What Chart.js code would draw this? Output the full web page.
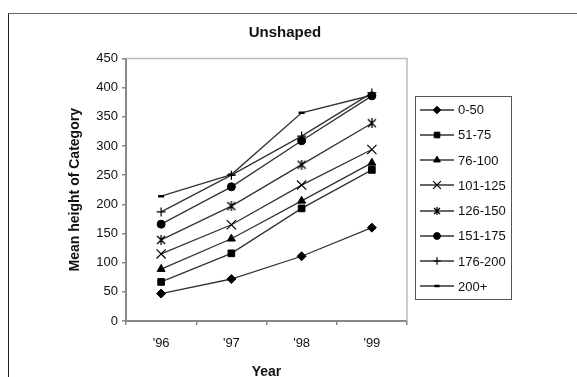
<!DOCTYPE html>
<html>
<head>
<meta charset="utf-8">
<script src="https://cdn.jsdelivr.net/npm/chart.js@4/dist/chart.umd.min.js"></script>
<style>
html, body { margin: 0; padding: 0; background: #fff; }
#marco { position: absolute; left: 8px; top: 13px; width: 569px; height: 364px; border-top: 1.5px solid #666; border-left: 1px solid #222; box-sizing: border-box; }
#wrap { position: absolute; left: 0; top: 0; width: 570px; height: 377px; }
#leyenda { position: absolute; left: 415px; top: 96px; width: 97px; height: 204px; border: 1px solid #555; box-sizing: border-box; background: #fff; font-family: Arial, "Liberation Sans", sans-serif; font-size: 13px; color: #111; }
.fila { display: flex; align-items: center; height: 25.25px; }
.fila canvas { margin-left: 4px; margin-right: 4px; }
</style>
</head>
<body>
<div id="marco"></div>
<div id="wrap"><canvas id="grafico"></canvas></div>
<div id="leyenda"></div>
<script>
const years = ["'96", "'97", "'98", "'99"];
const categorias = ['0-50', '51-75', '76-100', '101-125', '126-150', '151-175', '176-200', '200+'];

const cat0_50 = [47, 72, 111, 160];
const cat51_75 = [67, 116, 193, 259];
const cat76_100 = [89, 141, 206, 271];
const cat101_125 = [115, 165, 233, 294];
const cat126_150 = [139, 197, 268, 339];
const cat151_175 = [166, 230, 309, 386];
const cat176_200 = [187, 250, 317, 391];
const cat200mas = [214, 251, 357, 387];

const valores = [cat0_50, cat51_75, cat76_100, cat101_125, cat126_150, cat151_175, cat176_200, cat200mas];

// asterisco estilo Excel: X con una linea vertical
const crearAsterisco = (t) => {
    const c = document.createElement('canvas');
    c.width = t;
    c.height = t;
    const ctx = c.getContext('2d');
    ctx.strokeStyle = '#000';
    ctx.lineWidth = 1.3;
    ctx.beginPath();
    ctx.moveTo(1, 1); ctx.lineTo(t - 1, t - 1);
    ctx.moveTo(t - 1, 1); ctx.lineTo(1, t - 1);
    ctx.moveTo(t / 2, 0); ctx.lineTo(t / 2, t);
    ctx.stroke();
    return c;
};

// marcadores estilo Excel
const estilos = ['rectRot', 'rect', 'triangle', 'crossRot', crearAsterisco(10), 'circle', 'cross', 'line'];
const radios = [4.5, 4.7, 4.6, 6.5, 5, 4, 4.5, 3];
const bordes = [1, 1, 1, 1.2, 1.2, 1, 1.2, 2.5];

const fuente = 'Arial, "Liberation Sans", sans-serif';
Chart.defaults.font.family = fuente;
Chart.defaults.color = '#111';

const datasets = categorias.map((c, i) => ({
    label: c,
    data: valores[i],
    borderColor: '#333',
    borderWidth: 1.3,
    tension: 0,
    pointStyle: estilos[i],
    pointRadius: radios[i],
    pointBorderWidth: bordes[i],
    pointBackgroundColor: '#000',
    pointBorderColor: '#000'
}));

// marco del area de trazado (arriba y derecha)
const marcoPlot = {
    id: 'marcoPlot',
    beforeDatasetsDraw(chart) {
        const a = chart.chartArea;
        const ctx = chart.ctx;
        ctx.save();
        ctx.strokeStyle = '#bbb';
        ctx.lineWidth = 1.5;
        ctx.beginPath();
        ctx.moveTo(a.left, a.top);
        ctx.lineTo(a.right, a.top);
        ctx.lineTo(a.right, a.bottom);
        ctx.stroke();
        ctx.restore();
    }
};

const grafica = new Chart(document.getElementById('grafico'), {
    type: 'line',
    data: { labels: years, datasets: datasets },
    options: {
        responsive: true,
        maintainAspectRatio: false,
        animation: false,
        devicePixelRatio: 1,
        layout: { padding: 0 },
        plugins: {
            legend: { display: false },
            tooltip: { enabled: false },
            title: {
                display: true,
                text: 'Unshaped',
                color: '#111',
                font: { size: 15, weight: 'bold', lineHeight: 1 },
                padding: { top: 25, bottom: 18.5 }
            }
        },
        scales: {
            x: {
                offset: true,
                grid: { offset: true, drawOnChartArea: false, tickLength: 4, color: '#888', lineWidth: 1.5 },
                border: { color: '#888', width: 2 },
                ticks: { padding: 11, color: '#111', font: { size: 13 } },
                title: {
                    display: true, text: 'Year', color: '#111',
                    font: { size: 14, weight: 'bold', lineHeight: 1 },
                    padding: { top: 0, bottom: -2 }
                },
                afterFit(scale) { scale.height = 56; }
            },
            y: {
                min: 0,
                max: 450,
                ticks: { stepSize: 50, padding: 4, color: '#111', font: { size: 13 } },
                grid: { drawOnChartArea: false, tickLength: 4, color: '#888', lineWidth: 1.5 },
                border: { color: '#888', width: 2 },
                title: {
                    display: true, text: 'Mean height of Category', color: '#111',
                    font: { size: 14, weight: 'bold', lineHeight: 1 },
                    padding: { top: 68, bottom: 0 }
                },
                afterFit(scale) { scale.width = 126; }
            },
            derecha: {
                type: 'linear',
                position: 'right',
                display: true,
                ticks: { display: false },
                grid: { display: false },
                border: { display: false },
                afterFit(scale) { scale.width = 163; }
            }
        }
    },
    plugins: [marcoPlot]
});

// leyenda en HTML
const leyenda = document.getElementById('leyenda');
grafica.data.datasets.forEach((ds, i) => {
    const fila = document.createElement('div');
    fila.className = 'fila';
    const c = document.createElement('canvas');
    c.width = 34;
    c.height = 14;
    const ctx = c.getContext('2d');
    ctx.strokeStyle = ds.borderColor;
    ctx.lineWidth = ds.borderWidth;
    ctx.beginPath();
    ctx.moveTo(0, 7);
    ctx.lineTo(34, 7);
    ctx.stroke();
    ctx.fillStyle = '#000';
    ctx.strokeStyle = '#000';
    ctx.lineWidth = ds.pointBorderWidth;
    if (typeof ds.pointStyle !== 'string') {
        ctx.drawImage(crearAsterisco(8), 13, 3);
    } else if (Chart.helpers && Chart.helpers.drawPoint) {
        Chart.helpers.drawPoint(ctx, { pointStyle: ds.pointStyle, radius: ds.pointRadius * 0.85, borderWidth: ds.pointBorderWidth, rotation: 0 }, 17, 7);
    }
    const t = document.createElement('span');
    t.textContent = ds.label;
    fila.appendChild(c);
    fila.appendChild(t);
    leyenda.appendChild(fila);
});
</script>
</body>
</html>
